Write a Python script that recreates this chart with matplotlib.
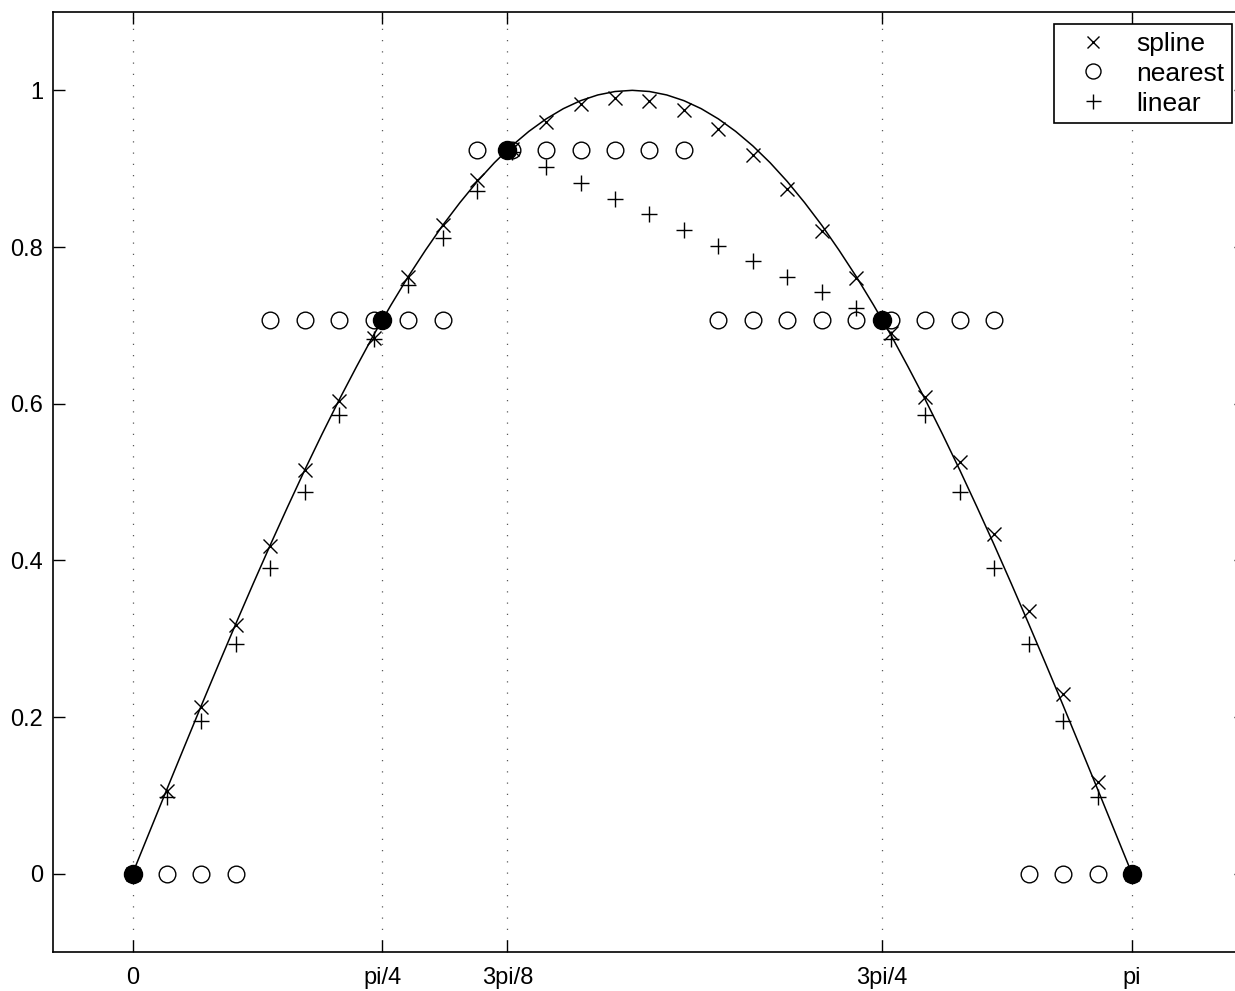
"""Interpolation of sin(x) through five knots: spline, nearest and linear."""
import numpy as np
import matplotlib.pyplot as plt

plt.rcParams['font.family'] = ['Liberation Sans', 'DejaVu Sans']

# knots
x_knot = np.array([0, np.pi / 4, 3 * np.pi / 8, 3 * np.pi / 4, np.pi])
y_knot = [0.0, 0.7071, 0.9239, 0.7071, 0.0]

# evaluation grid, 30 evenly spaced points on [0, pi]
xi = np.linspace(0, np.pi, 30)

# the underlying curve, sampled more finely
x_curve = np.linspace(0, np.pi, 59)
y_curve = [0.0, 0.0541, 0.1081, 0.1617, 0.2150, 0.2675, 0.3193, 0.3701,
           0.4199, 0.4683, 0.5156, 0.5612, 0.6053, 0.6473, 0.6880, 0.7260,
           0.7622, 0.7959, 0.8277, 0.8567, 0.8835, 0.9076, 0.9290, 0.9476,
           0.9635, 0.9766, 0.9868, 0.9941, 0.9985, 1.0,
           0.9985, 0.9941, 0.9868, 0.9766, 0.9635, 0.9476, 0.9290, 0.9076,
           0.8835, 0.8567, 0.8277, 0.7959, 0.7622, 0.7260, 0.6880, 0.6473,
           0.6053, 0.5612, 0.5156, 0.4683, 0.4199, 0.3701, 0.3193, 0.2675,
           0.2150, 0.1617, 0.1081, 0.0541, 0.0]

y_spline = [0.0, 0.106, 0.213, 0.318, 0.418, 0.515, 0.604, 0.684,
            0.762, 0.828, 0.885, 0.925, 0.960, 0.982, 0.990, 0.987,
            0.975, 0.951, 0.917, 0.874, 0.821, 0.760, 0.690, 0.609,
            0.526, 0.433, 0.335, 0.230, 0.117, 0.0]

y_nearest = [0.0, 0.0, 0.0, 0.0,
             0.7071, 0.7071, 0.7071, 0.7071, 0.7071, 0.7071,
             0.9239, 0.9239, 0.9239, 0.9239, 0.9239, 0.9239, 0.9239,
             0.7071, 0.7071, 0.7071, 0.7071, 0.7071, 0.7071, 0.7071,
             0.7071, 0.7071,
             0.0, 0.0, 0.0, 0.0]

y_linear = [0.0, 0.0975, 0.1951, 0.2926, 0.3901, 0.4877, 0.5852, 0.6828,
            0.7519, 0.8118, 0.8716, 0.9214, 0.9015, 0.8815, 0.8616, 0.8417,
            0.8217, 0.8018, 0.7818, 0.7619, 0.7420, 0.7221, 0.6828, 0.5852,
            0.4877, 0.3901, 0.2926, 0.1951, 0.0975, 0.0]

tick_pos = x_knot
tick_lab = ['0', 'pi/4', '3pi/8', '3pi/4', 'pi']

fig = plt.figure(figsize=(12.35, 9.91), dpi=100)
ax = fig.add_axes([53 / 1235, 1 - 952 / 991, 1193 / 1235, 940 / 991])

ax.plot(x_curve, y_curve, '-', color='k', lw=1.1)
ax.plot(xi, y_spline, 'x', color='k', ms=10, mew=1.0, label='spline')
ax.plot(xi, y_nearest, 'o', color='k', ms=12, mew=1.0, fillstyle='none',
        label='nearest')
ax.plot(xi, y_linear, '+', color='k', ms=12, mew=1.0, label='linear')
ax.plot(x_knot, y_knot, 'o', color='k', ms=13)

ax.set_xlim(-0.25, 3.5)
ax.set_ylim(-0.1, 1.1)
ax.set_xticks(tick_pos)
ax.set_xticklabels(tick_lab)
ax.set_yticks([0, 0.2, 0.4, 0.6, 0.8, 1.0])
ax.set_yticklabels(['0', '0.2', '0.4', '0.6', '0.8', '1'])

for xv in tick_pos:
    ax.axvline(xv, color='0.35', lw=0.9, ls=(0, (1, 8)), zorder=0)

ax.tick_params(direction='in', length=8.5, width=1, top=True, right=True,
               labelsize=17, colors='k')
ax.tick_params(axis='x', pad=11)
ax.tick_params(axis='y', pad=7)
for sp in ax.spines.values():
    sp.set_linewidth(1.2)

leg = ax.legend(loc='upper right', bbox_to_anchor=(1179 / 1193, 928 / 940),
                borderaxespad=0, fontsize=19, fancybox=False, framealpha=1,
                edgecolor='k', handlelength=2.35, handletextpad=0.45,
                labelspacing=0.22, borderpad=0.3, markerscale=0.9)
leg.get_frame().set_linewidth(1.2)

fig.savefig('out.png', dpi=100)
